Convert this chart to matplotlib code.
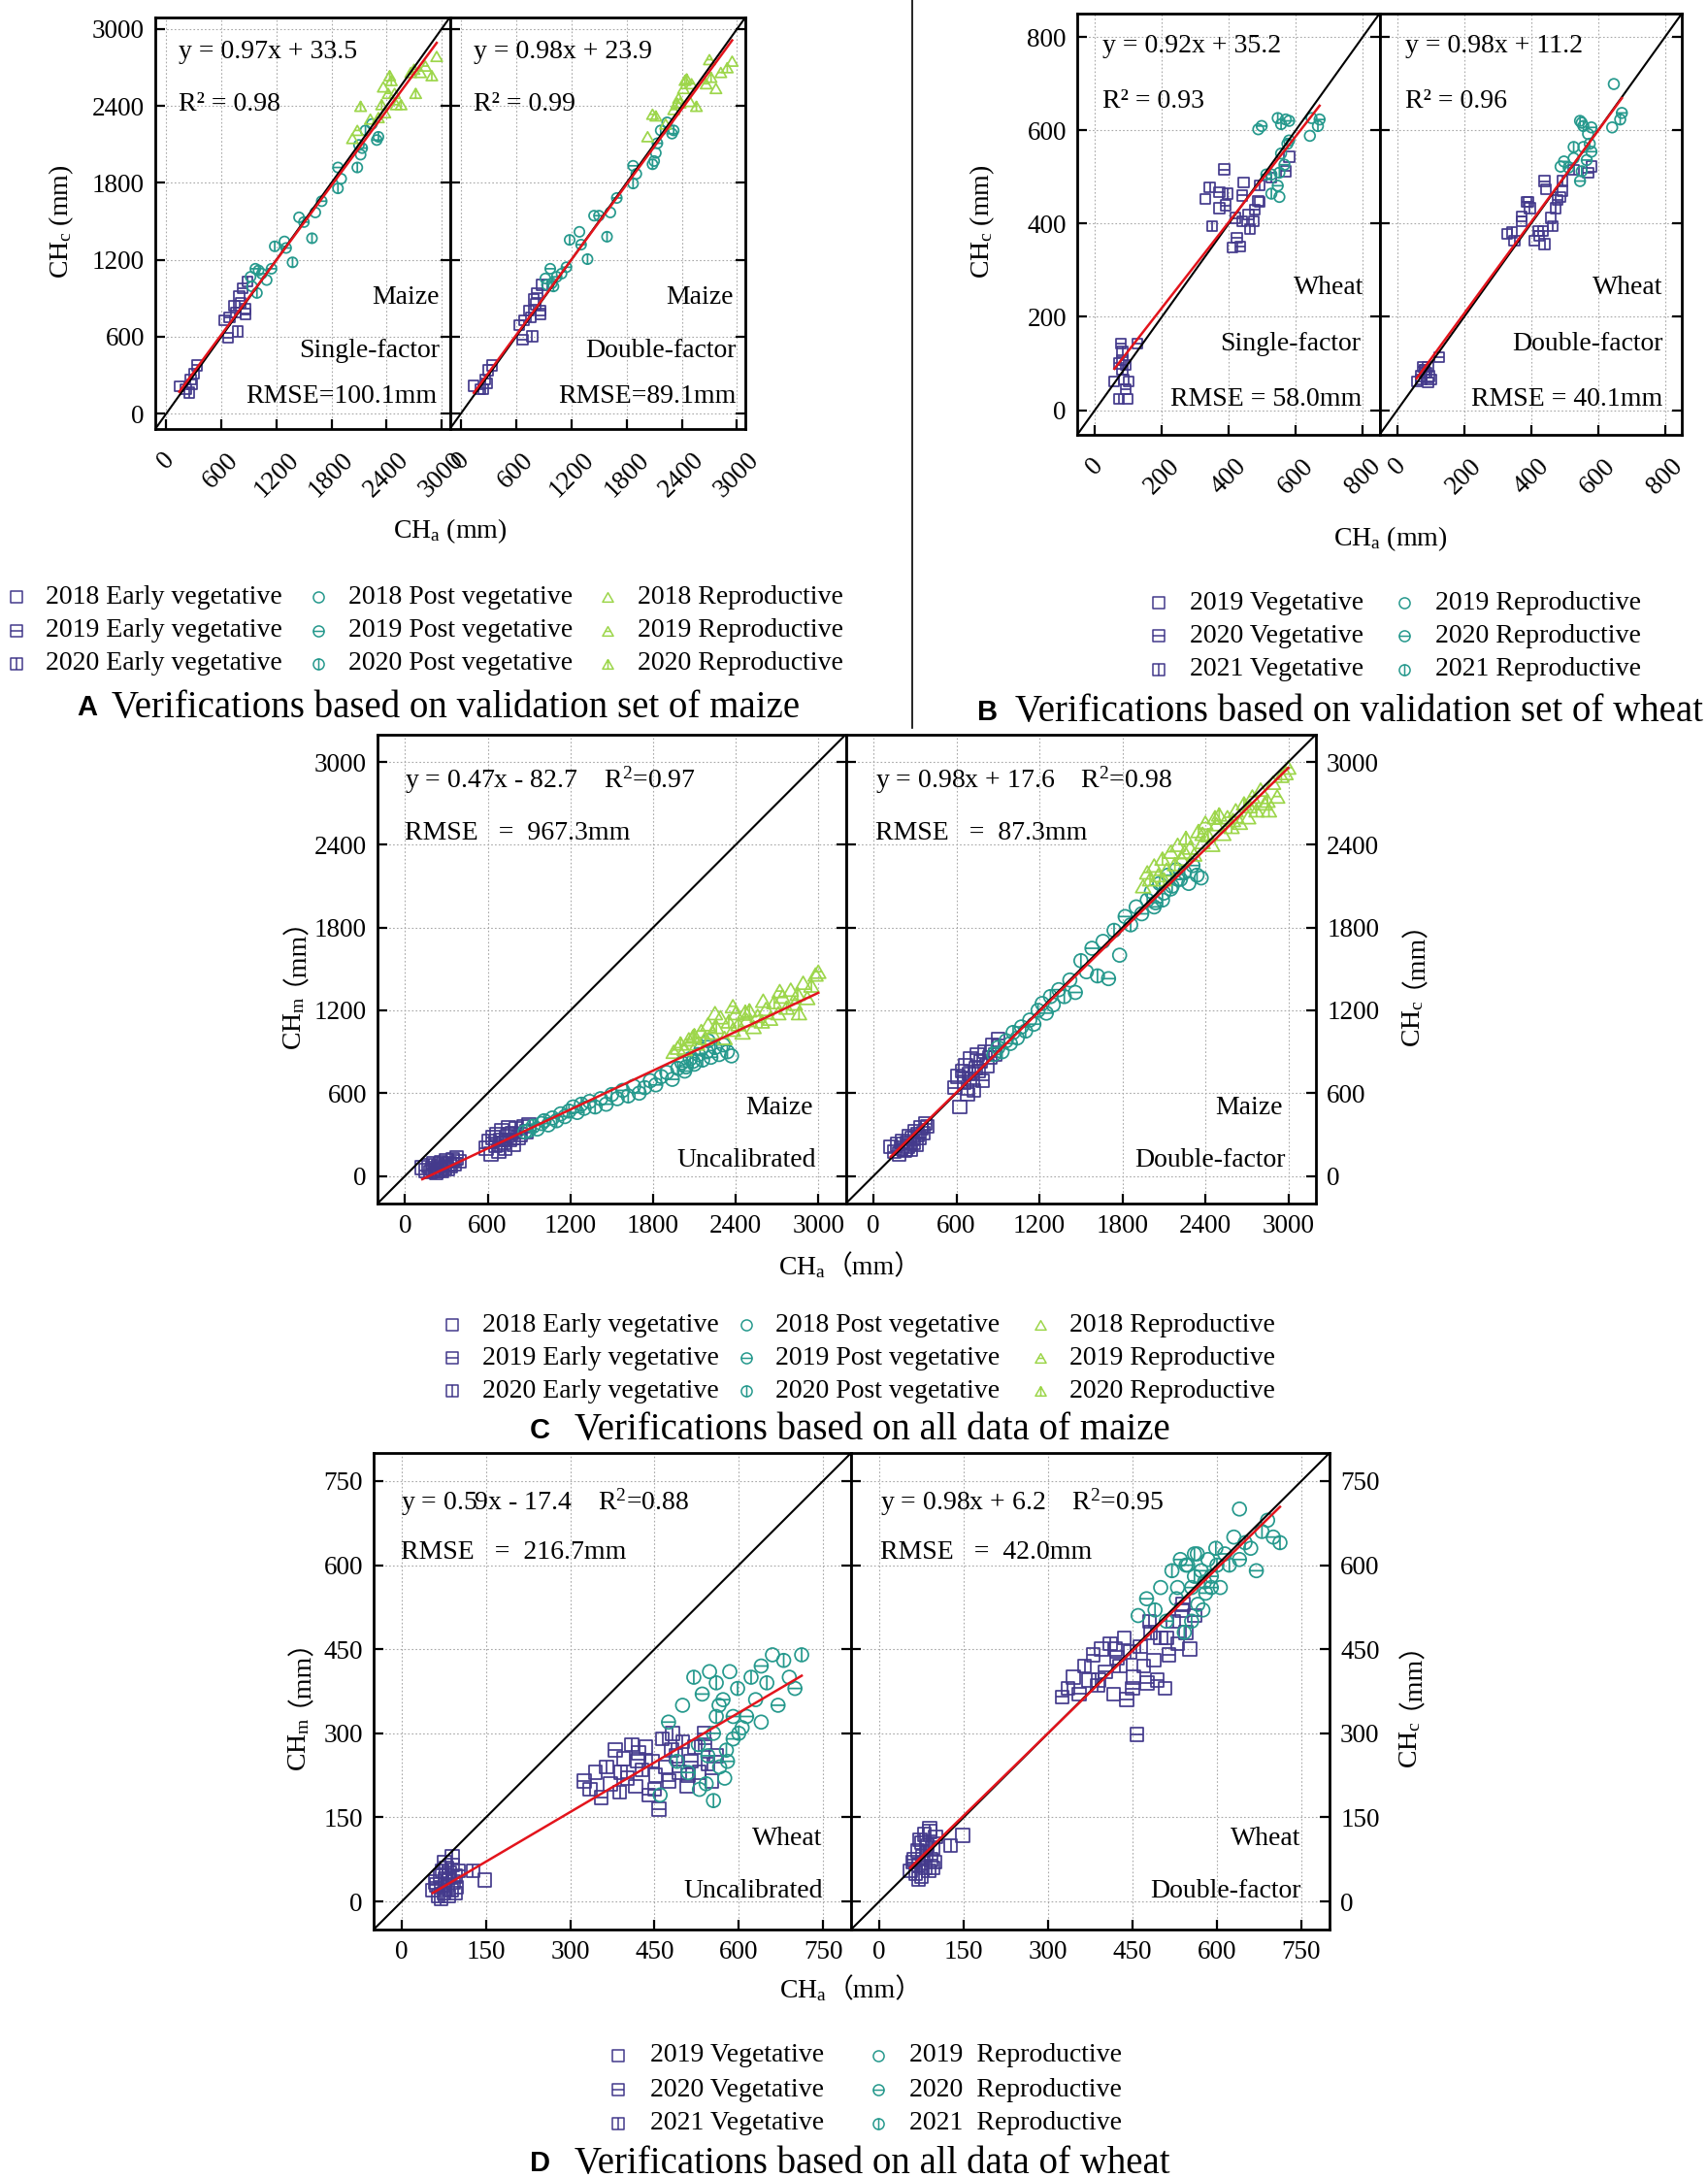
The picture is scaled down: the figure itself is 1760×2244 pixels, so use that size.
import matplotlib
matplotlib.use('Agg')
import matplotlib.pyplot as plt
from matplotlib.path import Path
from matplotlib.lines import Line2D

plt.rcParams['font.family'] = ['Liberation Serif', 'Noto Sans CJK SC']
plt.rcParams['mathtext.fontset'] = 'custom'
plt.rcParams['mathtext.rm'] = 'Liberation Serif'
plt.rcParams['mathtext.it'] = 'Liberation Serif:italic'
plt.rcParams['mathtext.bf'] = 'Liberation Serif:bold'

# ---------------- data (CH_a on x, model heights on y) ----------------
# A: maize validation set, y1 = single-factor, y2 = double-factor
A_veg_x = [141, 212, 265, 300, 335, 247, 282, 671, 776, 635, 688, 741, 794, 829, 882, 865, 865, 759, 812]
A_veg_y1 = [213, 188, 264, 314, 376, 163, 226, 590, 640, 728, 753, 841, 916, 979, 1029, 816, 778, 791, 866]
A_veg_y2 = [216, 191, 264, 339, 376, 188, 238, 577, 602, 690, 728, 803, 891, 941, 1004, 778, 803, 753, 853]
A_post_x = [918, 971, 1006, 1094, 1041, 988, 935, 1147, 1182, 1288, 1306, 1376, 1447, 1500, 1588, 1624, 1694,
            1871, 1906, 1871, 2082, 2118, 2135, 2171, 2241, 2294, 2312, 2100]
A_post_y1 = [1067, 1130, 1117, 1042, 1092, 941, 992, 1130, 1305, 1343, 1292, 1180, 1531, 1494, 1368, 1569, 1657,
             1757, 1832, 1920, 1920, 2020, 2071, 2209, 2259, 2134, 2159, 2096]
A_post_y2 = [1054, 1130, 992, 1092, 1067, 1017, 1005, 1142, 1355, 1418, 1318, 1205, 1544, 1544, 1380, 1569, 1682,
             1795, 1870, 1933, 1945, 2033, 2109, 2209, 2272, 2184, 2209, 1970]
A_rep_x = [2029, 2082, 2118, 2224, 2312, 2347, 2365, 2418, 2453, 2488, 2506, 2559, 2382, 2700, 2718, 2771, 2824,
           2894, 2947, 2665, 2435]
A_rep_y1 = [2146, 2209, 2397, 2297, 2309, 2410, 2548, 2498, 2598, 2498, 2410, 2410, 2347, 2686, 2498, 2661, 2711,
            2636, 2786, 2661, 2636]
A_rep_y2 = [2160, 2335, 2322, 2259, 2372, 2423, 2460, 2536, 2611, 2435, 2573, 2397, 2423, 2761, 2623, 2536, 2661,
            2698, 2749, 2573, 2600]

# B: wheat validation set
B_veg_x = [58, 77, 82, 82, 72, 92, 101, 92, 72, 97, 126, 82, 87, 386, 343, 329, 372, 396, 372, 391, 350, 444, 440,
           493, 488, 420, 440, 459, 478, 464, 410, 435, 474, 580, 570, 527, 493, 424]
B_veg_y1 = [62, 142, 125, 107, 100, 97, 62, 45, 24, 24, 142, 87, 66, 516, 477, 453, 467, 464, 433, 439, 394, 488,
            460, 481, 448, 412, 405, 419, 429, 388, 349, 351, 405, 543, 512, 498, 446, 370]
B_veg_y2 = [62, 93, 87, 80, 73, 93, 66, 59, 66, 73, 114, 87, 80, 446, 381, 377, 415, 433, 405, 446, 363, 474, 491,
            491, 457, 384, 356, 412, 450, 394, 363, 384, 433, 522, 509, 515, 470, 374]
B_rep_x = [488, 498, 546, 570, 580, 556, 647, 671, 666, 642, 580, 575, 556, 566, 551, 527, 546, 527, 551, 512]
B_rep_y1 = [602, 609, 626, 623, 620, 613, 626, 623, 609, 588, 578, 571, 550, 526, 509, 505, 481, 464, 457, 505]
B_rep_y2 = [522, 533, 620, 592, 606, 609, 699, 637, 623, 606, 554, 571, 564, 536, 512, 540, 491, 564, 616, 520]

# C: all maize data, y1 = uncalibrated (CH_m), y2 = double-factor (CH_c)
C_veg_x = [125, 150, 170, 185, 200, 210, 225, 240, 250, 260, 270, 280, 290, 300, 310, 320, 330, 345, 360, 375, 390,
           230, 590, 610, 625, 640, 655, 665, 680, 690, 700, 715, 725, 740, 750, 760, 775, 790, 805, 820, 840, 860,
           880, 900]
C_veg_y1 = [60, 40, 75, 30, 55, 90, 20, 70, 45, 100, 35, 80, 60, 110, 50, 90, 70, 120, 85, 130, 105, 40, 200, 250,
            160, 280, 220, 300, 180, 260, 330, 240, 200, 290, 350, 260, 310, 230, 340, 280, 300, 360, 320, 370]
C_veg_y2 = [210, 175, 230, 160, 200, 250, 185, 240, 215, 290, 195, 270, 240, 320, 230, 300, 280, 350, 310, 380, 360,
            190, 640, 720, 500, 760, 680, 800, 590, 740, 850, 700, 620, 780, 880, 760, 830, 690, 900, 800, 860, 950,
            880, 990]
C_post_x = [870, 900, 930, 960, 990, 1010, 1040, 1070, 1100, 1130, 1160, 1190, 1220, 1250, 1280, 1300, 1340, 1380,
            1420, 1460, 1500, 1540, 1580, 1620, 1660, 1700, 1740, 1780, 1820, 1860, 1900, 1940, 1980, 2010, 2040,
            2070, 2100, 2130, 2160, 2190, 2220, 2250, 2280, 2310, 2340, 2370, 2030, 2090, 2150, 2200]
C_post_y1 = [320, 330, 360, 340, 380, 400, 370, 420, 400, 450, 430, 470, 500, 460, 520, 490, 540, 500, 560, 520,
             590, 560, 620, 580, 650, 600, 640, 690, 660, 720, 750, 700, 780, 820, 790, 850, 810, 880, 840, 900,
             860, 930, 880, 950, 900, 870, 760, 830, 920, 980]
C_post_y2 = [880, 930, 900, 980, 960, 1040, 1000, 1080, 1050, 1130, 1100, 1200, 1250, 1180, 1300, 1240, 1350, 1300,
             1420, 1330, 1560, 1480, 1650, 1450, 1700, 1430, 1780, 1600, 1880, 1820, 1950, 1900, 2000, 2060, 1980,
             2120, 2050, 2180, 2100, 2220, 2150, 2200, 2120, 2250, 2180, 2160, 1950, 2000, 2080, 2150]
C_rep_x = [1950, 1980, 2000, 2030, 2060, 2090, 2120, 2150, 2180, 2200, 2230, 2260, 2290, 2320, 2350, 2380, 2400,
           2420, 2450, 2480, 2500, 2530, 2560, 2590, 2620, 2650, 2680, 2710, 2740, 2770, 2800, 2830, 2860, 2890,
           2920, 2950, 2980, 3000, 2100, 2250, 2380, 2470, 2600, 2720, 2850]
C_rep_y1 = [900, 930, 960, 920, 990, 1010, 960, 1050, 1000, 1100, 1040, 1080, 1150, 1000, 1120, 1060, 1180, 1100,
            1040, 1130, 1200, 1080, 1160, 1120, 1210, 1140, 1260, 1180, 1300, 1220, 1350, 1250, 1180, 1400, 1290,
            1380, 1460, 1480, 1020, 1180, 1230, 1190, 1270, 1340, 1320]
C_rep_y2 = [2100, 2200, 2150, 2250, 2180, 2300, 2220, 2350, 2260, 2400, 2300, 2450, 2380, 2330, 2500, 2420, 2560,
            2470, 2400, 2550, 2620, 2480, 2600, 2530, 2650, 2560, 2700, 2600, 2750, 2650, 2800, 2700, 2650, 2850,
            2750, 2900, 2920, 2960, 2150, 2350, 2480, 2600, 2580, 2680, 2720]

# D: all wheat data
D_veg_x = [55, 60, 65, 68, 70, 72, 75, 78, 80, 82, 85, 88, 90, 92, 95, 98, 100, 70, 76, 84, 90, 96, 62, 127, 148,
           325, 335, 345, 355, 365, 372, 380, 388, 395, 402, 410, 416, 422, 428, 435, 440, 446, 452, 458, 464,
           470, 476, 482, 488, 494, 500, 508, 515, 522, 530, 538, 545, 552, 560, 390, 420, 450, 480, 510, 540]
D_veg_y1 = [20, 35, 10, 45, 25, 55, 15, 40, 60, 30, 50, 20, 65, 35, 45, 25, 55, 5, 70, 10, 80, 15, 30, 55, 38,
            215, 200, 230, 185, 240, 210, 270, 195, 255, 220, 280, 205, 265, 235, 275, 190, 250, 225, 165, 290,
            240, 215, 300, 260, 230, 285, 205, 250, 275, 230, 300, 245, 215, 260, 230, 250, 200, 270, 225, 280]
D_veg_y2 = [55, 70, 50, 90, 65, 110, 45, 80, 120, 60, 100, 55, 130, 75, 95, 70, 115, 40, 105, 85, 125, 60, 75, 100,
            118, 365, 380, 400, 370, 420, 395, 440, 385, 450, 410, 460, 370, 435, 420, 470, 360, 445, 400, 298,
            455, 420, 390, 480, 430, 395, 470, 380, 440, 500, 460, 520, 480, 450, 510, 395, 450, 380, 500, 470, 530]
D_rep_x = [460, 475, 490, 500, 510, 520, 528, 535, 542, 548, 555, 560, 566, 572, 578, 584, 590, 598, 606, 614,
           622, 630, 640, 650, 660, 670, 680, 690, 700, 712, 530, 545, 560, 575, 590, 555, 565, 580, 600, 640]
D_rep_y1 = [190, 320, 250, 350, 230, 400, 280, 370, 210, 410, 300, 390, 240, 360, 270, 410, 330, 380, 310, 330,
            400, 360, 420, 390, 440, 350, 430, 400, 380, 440, 200, 260, 330, 220, 290, 180, 350, 250, 300, 320]
D_rep_y2 = [510, 540, 520, 560, 500, 590, 540, 610, 480, 600, 560, 620, 530, 590, 570, 610, 580, 630, 560, 620,
            600, 650, 610, 640, 630, 590, 660, 680, 650, 640, 560, 600, 580, 520, 560, 500, 620, 550, 600, 700]

# fitted lines (slope, intercept) as printed on the panels
fit_A = [(0.97, 33.5), (0.98, 23.9)]
fit_B = [(0.92, 35.2), (0.98, 11.2)]
fit_C = [(0.47, -82.7), (0.98, 17.6)]
fit_D = [(0.59, -17.4), (0.98, 6.2)]

maize_labels = [['2018 Early vegetative', '2019 Early vegetative', '2020 Early vegetative'],
                ['2018 Post vegetative', '2019 Post vegetative', '2020 Post vegetative'],
                ['2018 Reproductive', '2019 Reproductive', '2020 Reproductive']]
wheat_labels = [['2019 Vegetative', '2020 Vegetative', '2021 Vegetative'],
                ['2019 Reproductive', '2020 Reproductive', '2021 Reproductive']]
wheat_labels_d = [['2019 Vegetative', '2020 Vegetative', '2021 Vegetative'],
                  ['2019  Reproductive', '2020  Reproductive', '2021  Reproductive']]

C_VEG, C_POST, C_REP = '#443a8c', '#26998d', '#9dd64b'
RED = '#e3141c'

W, H = 1760, 2244
fig = plt.figure(figsize=(W / 100, H / 100), dpi=100)


def mk(shape, bar):
    """open marker, optionally crossed by a horizontal or vertical bar (year)"""
    if shape == 's':
        base = Path([(-1, -1), (1, -1), (1, 1), (-1, 1), (-1, -1)],
                    [Path.MOVETO, Path.LINETO, Path.LINETO, Path.LINETO, Path.CLOSEPOLY])
        hl, vl = [(-1, 0), (1, 0)], [(0, -1), (0, 1)]
    elif shape == 'o':
        base = Path.unit_circle()
        hl, vl = [(-1, 0), (1, 0)], [(0, -1), (0, 1)]
    else:
        base = Path([(0, 0.87), (-1, -0.87), (1, -0.87), (0, 0.87)],
                    [Path.MOVETO, Path.LINETO, Path.LINETO, Path.CLOSEPOLY])
        hl, vl = [(-0.5, 0), (0.5, 0)], [(0, 0.87), (0, -0.87)]
    if bar == 'h':
        return Path.make_compound_path(base, Path(hl))
    if bar == 'v':
        return Path.make_compound_path(base, Path(vl))
    return base


BARS = [None, 'h', 'v']


def axes_px(x0, x1, y0, y1):
    return fig.add_axes([x0 / W, 1 - y1 / H, (x1 - x0) / W, (y1 - y0) / H])


def scatter_group(ax, shape, color, xs, ys, s):
    # points were read in order; the year marker cycles through the three seasons
    for k, bar in enumerate(BARS):
        ax.scatter(xs[k::3], ys[k::3], marker=mk(shape, bar), s=s, facecolors='none',
                   edgecolors=color, linewidths=1.25, zorder=2)


def setup(ax, lim, ticks, rotate, ylabels):
    ax.set_xlim(lim)
    ax.set_ylim(lim)
    ax.set_xticks(ticks)
    ax.set_yticks(ticks)
    ax.grid(True, color='#a8a8a8', linestyle=(0, (1.5, 2.0)), linewidth=0.8)
    ax.set_axisbelow(True)
    for sp in ax.spines.values():
        sp.set_linewidth(2.0)
    ax.tick_params(direction='in', length=7, width=1.6, labelsize=19.5, top=False, right=True, pad=8)
    if rotate:
        ax.tick_params(axis='x', labelrotation=45, pad=14)
    if ylabels == 'none':
        ax.tick_params(axis='y', labelleft=False)
    elif ylabels == 'right':
        ax.tick_params(axis='y', labelleft=False, labelright=True)
    ax.plot(lim, lim, color='black', lw=1.5, zorder=3)


def fit_line(ax, xs_all, coef):
    a, b = coef
    x0, x1 = min(xs_all), max(xs_all)
    ax.plot([x0, x1], [a * x0 + b, a * x1 + b], color=RED, lw=1.8, zorder=4)


def txt(ax, x, y, s, ha='left'):
    ax.text(x, y, s, transform=ax.transAxes, fontsize=20, ha=ha, va='center', zorder=5)


def legend_entry(xm, xt, y, shape, bar, color, label):
    fig.add_artist(Line2D([xm / W], [1 - y / H], transform=fig.transFigure, marker=mk(shape, bar),
                          markersize=8, mfc='none', mec=color, mew=1.1, ls='none'))
    fig.text(xt / W, 1 - y / H, label, fontsize=20, ha='left', va='center')


def caption(xl, xt, y, letter, s):
    fig.text(xl / W, 1 - y / H, letter, family='Liberation Sans', weight='bold', fontsize=21,
             ha='left', va='center')
    fig.text(xt / W, 1 - y / H, s, fontsize=28, ha='left', va='center')


renderer = fig.canvas.get_renderer()


def cjk_label(xc, yc, head, tail, vertical):
    # head has a math subscript, tail holds full-width brackets from the CJK font
    rot = 90 if vertical else 0
    t1 = fig.text(0, 0, head, fontsize=20, rotation=rot, rotation_mode='anchor', ha='left', va='baseline')
    t2 = fig.text(0, 0, tail, fontsize=20, rotation=rot, rotation_mode='anchor', ha='left', va='baseline')
    e1, e2 = t1.get_window_extent(renderer), t2.get_window_extent(renderer)
    if vertical:
        gap = 12
        l1, l2 = e1.height, e2.height
        y0 = (H - yc) - (l1 + l2 + gap) / 2
        xb = xc + 9
        t1.set_position((xb / W, y0 / H))
        t2.set_position(((xb - 13) / W, (y0 + l1 + gap) / H))
    else:
        l1, l2 = e1.width, e2.width
        x0 = xc - (l1 + l2) / 2
        yb = (H - yc) - 8
        t1.set_position((x0 / W, yb / H))
        t2.set_position(((x0 + l1) / W, yb / H))


# ---------------- panel A ----------------
limA, ticksA = (-120, 3090), [0, 600, 1200, 1800, 2400, 3000]
axA1 = axes_px(160, 463.5, 18, 442)
axA2 = axes_px(463.5, 768, 18, 442)
for ax, ykey, coef, mode in [(axA1, 1, fit_A[0], 'left'), (axA2, 2, fit_A[1], 'none')]:
    setup(ax, limA, ticksA, True, mode)
    scatter_group(ax, 's', C_VEG, A_veg_x, A_veg_y1 if ykey == 1 else A_veg_y2, 55)
    scatter_group(ax, 'o', C_POST, A_post_x, A_post_y1 if ykey == 1 else A_post_y2, 55)
    scatter_group(ax, '^', C_REP, A_rep_x, A_rep_y1 if ykey == 1 else A_rep_y2, 70)
    fit_line(ax, A_veg_x + A_post_x + A_rep_x, coef)
txt(axA1, 0.08, 0.917, 'y = 0.97x + 33.5')
txt(axA1, 0.08, 0.79, 'R² = 0.98')
txt(axA1, 0.965, 0.319, 'Maize', 'right')
txt(axA1, 0.965, 0.19, 'Single-factor', 'right')
txt(axA1, 0.955, 0.08, 'RMSE=100.1mm', 'right')
txt(axA2, 0.08, 0.917, 'y = 0.98x + 23.9')
txt(axA2, 0.08, 0.79, 'R² = 0.99')
txt(axA2, 0.96, 0.319, 'Maize', 'right')
txt(axA2, 0.97, 0.19, 'Double-factor', 'right')
txt(axA2, 0.97, 0.08, 'RMSE=89.1mm', 'right')
fig.text(63 / W, 1 - 228 / H, r'CH$_\mathrm{c}$ (mm)', rotation=90, fontsize=20, ha='center', va='center')
fig.text(464 / W, 1 - 547 / H, r'CH$_\mathrm{a}$ (mm)', fontsize=20, ha='center', va='center')
for c, (xm, xt) in enumerate([(17, 47), (328, 359), (626, 657)]):
    shape = ['s', 'o', '^'][c]
    col = [C_VEG, C_POST, C_REP][c]
    for r, yy in enumerate([615, 649.5, 684]):
        legend_entry(xm, xt, yy, shape, BARS[r], col, maize_labels[c][r])
caption(79, 115, 729, 'A', 'Verifications based on validation set of maize')

# ---------------- panel B ----------------
limB, ticksB = (-53, 850), [0, 200, 400, 600, 800]
axB1 = axes_px(1110, 1421.5, 14, 448)
axB2 = axes_px(1421.5, 1733, 14, 448)
for ax, ykey, coef, mode in [(axB1, 1, fit_B[0], 'left'), (axB2, 2, fit_B[1], 'none')]:
    setup(ax, limB, ticksB, True, mode)
    scatter_group(ax, 's', C_VEG, B_veg_x, B_veg_y1 if ykey == 1 else B_veg_y2, 55)
    scatter_group(ax, 'o', C_POST, B_rep_x, B_rep_y1 if ykey == 1 else B_rep_y2, 60)
    fit_line(ax, B_veg_x + B_rep_x, coef)
txt(axB1, 0.085, 0.922, 'y = 0.92x + 35.2')
txt(axB1, 0.085, 0.792, 'R² = 0.93')
txt(axB1, 0.947, 0.348, 'Wheat', 'right')
txt(axB1, 0.937, 0.216, 'Single-factor', 'right')
txt(axB1, 0.94, 0.083, 'RMSE = 58.0mm', 'right')
txt(axB2, 0.085, 0.922, 'y = 0.98x + 11.2')
txt(axB2, 0.085, 0.792, 'R² = 0.96')
txt(axB2, 0.937, 0.348, 'Wheat', 'right')
txt(axB2, 0.937, 0.216, 'Double-factor', 'right')
txt(axB2, 0.937, 0.083, 'RMSE = 40.1mm', 'right')
fig.text(1012 / W, 1 - 228 / H, r'CH$_\mathrm{c}$ (mm)', rotation=90, fontsize=20, ha='center', va='center')
fig.text(1433 / W, 1 - 555 / H, r'CH$_\mathrm{a}$ (mm)', fontsize=20, ha='center', va='center')
for c, (xm, xt) in enumerate([(1194, 1226), (1447, 1479)]):
    shape = ['s', 'o'][c]
    col = [C_VEG, C_POST][c]
    for r, yy in enumerate([621, 655, 690]):
        legend_entry(xm, xt, yy, shape, BARS[r], col, wheat_labels[c][r])
caption(1007, 1046, 734, 'B', 'Verifications based on validation set of wheat')
fig.add_artist(Line2D([940 / W, 940 / W], [1, 1 - 750 / H], transform=fig.transFigure, color='black', lw=1.2))

# ---------------- panel C ----------------
limC, ticksC = (-200, 3200), [0, 600, 1200, 1800, 2400, 3000]
axC1 = axes_px(389, 871.6, 756.7, 1240)
axC2 = axes_px(871.6, 1356, 756.7, 1240)
for ax, ykey, coef, mode in [(axC1, 1, fit_C[0], 'left'), (axC2, 2, fit_C[1], 'right')]:
    setup(ax, limC, ticksC, False, mode)
    scatter_group(ax, 's', C_VEG, C_veg_x, C_veg_y1 if ykey == 1 else C_veg_y2, 95)
    scatter_group(ax, 'o', C_POST, C_post_x, C_post_y1 if ykey == 1 else C_post_y2, 100)
    scatter_group(ax, '^', C_REP, C_rep_x, C_rep_y1 if ykey == 1 else C_rep_y2, 120)
    fit_line(ax, C_veg_x + C_post_x + C_rep_x, coef)
txt(axC1, 0.058, 0.903, r'y = 0.47x - 82.7    R$^2$=0.97')
txt(axC1, 0.058, 0.789, 'RMSE   =  967.3mm')
txt(axC1, 0.93, 0.203, 'Maize', 'right')
txt(axC1, 0.936, 0.093, 'Uncalibrated', 'right')
txt(axC2, 0.062, 0.903, r'y = 0.98x + 17.6    R$^2$=0.98')
txt(axC2, 0.062, 0.789, 'RMSE   =  87.3mm')
txt(axC2, 0.93, 0.203, 'Maize', 'right')
txt(axC2, 0.936, 0.093, 'Double-factor', 'right')
cjk_label(301, 999, r'CH$_\mathrm{m}$', '（mm）', True)
cjk_label(1454, 999, r'CH$_\mathrm{c}$', '（mm）', True)
cjk_label(876, 1305, r'CH$_\mathrm{a}$', '（mm）', False)
for c, (xm, xt) in enumerate([(466, 497), (769, 799), (1072, 1102)]):
    shape = ['s', 'o', '^'][c]
    col = [C_VEG, C_POST, C_REP][c]
    for r, yy in enumerate([1365, 1399, 1433]):
        legend_entry(xm, xt, yy, shape, BARS[r], col, maize_labels[c][r])
caption(546, 592, 1474, 'C', 'Verifications based on all data of maize')

# ---------------- panel D ----------------
limD, ticksD = (-50, 800), [0, 150, 300, 450, 600, 750]
axD1 = axes_px(385, 877, 1497, 1988)
axD2 = axes_px(877, 1370, 1497, 1988)
for ax, ykey, coef, mode in [(axD1, 1, fit_D[0], 'left'), (axD2, 2, fit_D[1], 'right')]:
    setup(ax, limD, ticksD, False, mode)
    scatter_group(ax, 's', C_VEG, D_veg_x, D_veg_y1 if ykey == 1 else D_veg_y2, 95)
    scatter_group(ax, 'o', C_POST, D_rep_x, D_rep_y1 if ykey == 1 else D_rep_y2, 100)
    fit_line(ax, D_veg_x + D_rep_x, coef)
txt(axD1, 0.057, 0.896, r'y = 0.59x - 17.4    R$^2$=0.88')
txt(axD1, 0.057, 0.792, 'RMSE   =  216.7mm')
txt(axD1, 0.94, 0.19, 'Wheat', 'right')
txt(axD1, 0.94, 0.081, 'Uncalibrated', 'right')
txt(axD2, 0.06, 0.896, r'y = 0.98x + 6.2    R$^2$=0.95')
txt(axD2, 0.06, 0.792, 'RMSE   =  42.0mm')
txt(axD2, 0.94, 0.19, 'Wheat', 'right')
txt(axD2, 0.94, 0.081, 'Double-factor', 'right')
cjk_label(306, 1742, r'CH$_\mathrm{m}$', '（mm）', True)
cjk_label(1451, 1742, r'CH$_\mathrm{c}$', '（mm）', True)
cjk_label(877, 2050, r'CH$_\mathrm{a}$', '（mm）', False)
for c, (xm, xt) in enumerate([(637, 670), (905, 937)]):
    shape = ['s', 'o'][c]
    col = [C_VEG, C_POST][c]
    for r, yy in enumerate([2118, 2153, 2188]):
        legend_entry(xm, xt, yy, shape, BARS[r], col, wheat_labels_d[c][r])
caption(546, 592, 2229, 'D', 'Verifications based on all data of wheat')

fig.savefig('out.png', dpi=100)
